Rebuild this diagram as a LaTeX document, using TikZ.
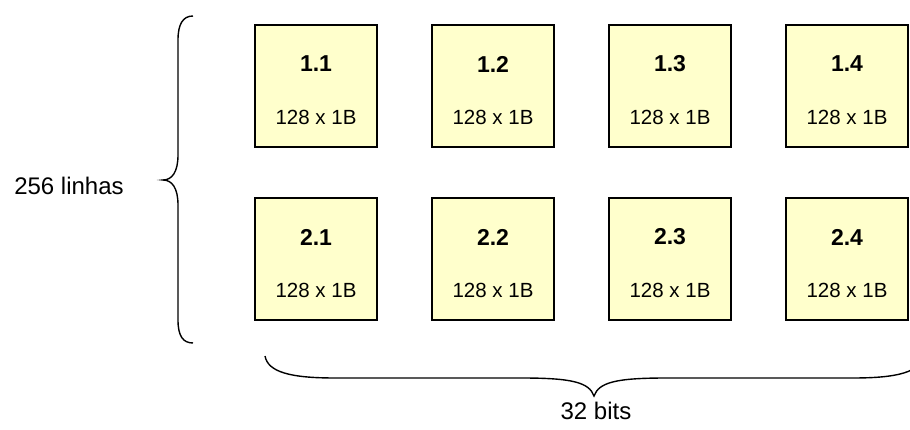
\documentclass[tikz,border=0pt]{standalone}
\usepackage{fontspec}
\setmainfont{Liberation Sans}
\definecolor{boxfill}{HTML}{FFFFCC}
\tikzset{
  membox/.style={draw=black, line width=2.6pt, fill=boxfill, minimum width=122pt, minimum height=122pt, inner sep=0pt},
  boxlabel/.style={font=\fontsize{23}{25}\selectfont\bfseries, inner sep=0pt},
  boxsub/.style={font=\fontsize{20.5}{22}\selectfont, inner sep=0pt},
  outerlabel/.style={font=\fontsize{24}{26}\selectfont, inner sep=0pt},
  bracestyle/.style={draw=black, line width=1.4pt}
}
\begin{document}
\begin{tikzpicture}[x=1pt,y=-1pt]
\useasboundingbox (0,0) rectangle (910,430);
\clip (0,0) rectangle (910,430);
% boxes
\foreach \r/\ty in {1/25,2/198}{
  \foreach \c/\cx in {1/316,2/493,3/670,4/847}{
    \node[membox] (b\r\c) at (\cx,\ty+61) {};
    \node[boxlabel] (l\r\c) at (\cx,\ty+39) {\r.\c};
    \node[boxsub] (s\r\c) at (\cx,\ty+92) {128 x 1B};
  }
}
% left brace
\coordinate (lt) at (193,16);
\coordinate (lm) at (163,180);
\coordinate (lb) at (193,343);
\draw[bracestyle] (lt) .. controls (183,16) and (178,24) .. (178,40)
  -- (178,155) .. controls (178,172) and (172,180) .. (lm)
  .. controls (172,180) and (178,188) .. (178,205)
  -- (178,320) .. controls (178,336) and (183,343) .. (lb);
\node[outerlabel] (rows) at (69,186) {256 linhas};
% bottom brace
\coordinate (bl) at (265,356);
\coordinate (bm) at (594,396);
\coordinate (br) at (923,356);
\draw[bracestyle] (bl) .. controls (268,372) and (290,378) .. (335,378)
  -- (521,378) .. controls (571,378) and (589,382) .. (bm)
  .. controls (599,382) and (617,378) .. (667,378)
  -- (853,378) .. controls (898,378) and (920,372) .. (br);
\node[outerlabel] (bits) at (596,411) {32 bits};
\end{tikzpicture}
\end{document}
